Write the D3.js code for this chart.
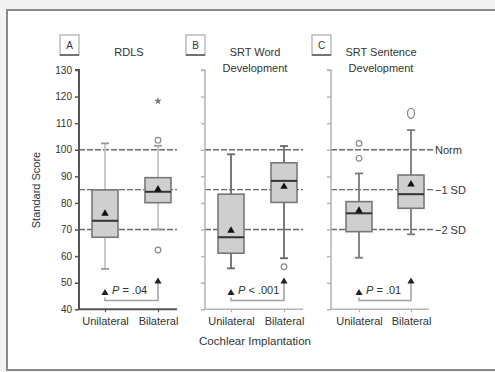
<!DOCTYPE html>
<html>
<head>
<meta charset="utf-8">
<script src="https://cdn.jsdelivr.net/npm/d3@7"></script>
<style>
  html, body { margin: 0; padding: 0; background: #f3f3f3; }
  svg { display: block; }
  text { font-family: "Liberation Sans", Arial, sans-serif; fill: #333; }
</style>
</head>
<body>
<svg id="chart" width="495" height="372"></svg>
<script>
// Panels and their titles
const panelLetters = ["A", "B", "C"];
const panelTitles = [["RDLS"], ["SRT Word", "Development"], ["SRT Sentence", "Development"]];
const groups = ["Unilateral", "Bilateral"];

// Box-plot statistics per panel: [Unilateral, Bilateral]
const lowerWhisker = [[55.2, 70.0], [55.4, 59.2], [59.4, 68.2]];
const q1           = [[67.1, 80.1], [61.1, 80.2], [69.2, 78.0]];
const medians      = [[73.3, 84.2], [67.1, 88.3], [76.1, 83.3]];
const q3           = [[84.9, 89.5], [83.3, 95.1], [80.5, 90.5]];
const upperWhisker = [[102.4, 101.5], [98.3, 101.4], [91.1, 107.4]];
const means        = [[76.0, 85.1], [69.6, 86.1], [77.1, 87.0]];

// Outliers: [panel, group, value, kind]
const outliers = [
  [0, 1, 118.3, "star"], [0, 1, 103.6, "circle"], [0, 1, 62.3, "circle"],
  [1, 1, 56.0, "circle"],
  [2, 0, 102.4, "circle"], [2, 0, 96.8, "circle"],
  [2, 1, 113.7, "extreme"]
];

// Group comparison results
const pLabels = ["= .04", "< .001", "= .01"];

// Reference lines (normative mean and SDs)
const refValues = [100, 85, 70];
const refLabels = ["Norm", "\u22121 SD", "\u22122 SD"];

const yTicks = [40, 50, 60, 70, 80, 90, 100, 110, 120, 130];

const svg = d3.select("#chart");

// outer frame
svg.append("rect").attr("x", 7).attr("y", 10).attr("width", 500).attr("height", 360)
  .attr("fill", "#fff").attr("stroke", "#8a8a8a").attr("stroke-width", 2);

const y = d3.scaleLinear().domain([40, 130]).range([309.3, 70]);

const panelX0 = [79, 205, 331];
const panelW = 98;
const axisColor = ["#555", "#b5b5b5", "#b5b5b5"];
const whiskerColor = ["#c4c4c4", "#6a6a6a", "#7a7a7a"];

panelLetters.forEach((letter, p) => {
  const x0 = panelX0[p];
  const g = svg.append("g");
  const x = d3.scalePoint().domain(groups).range([x0 + 26 + (p === 2 ? 2 : 0), x0 + 79 + (p === 2 ? 1 : 0)]);

  // reference lines
  refValues.forEach((v, i) => {
    g.append("line")
      .attr("x1", x0).attr("x2", x0 + panelW + (p === 2 ? 4 : 0))
      .attr("y1", y(v)).attr("y2", y(v))
      .attr("stroke", "#6a6a6a").attr("stroke-width", 1.4)
      .attr("stroke-dasharray", "6,2");
    if (p === 2) {
      g.append("text").attr("x", x0 + panelW + 6).attr("y", y(v) + 4)
        .attr("font-size", 11).text(refLabels[i]);
    }
  });

  // y axis
  const yAxis = d3.axisLeft(y).tickValues(yTicks).tickSize(4)
    .tickFormat(p === 0 ? d3.format("d") : () => "");
  const ya = g.append("g").attr("transform", `translate(${x0},0)`).call(yAxis);
  ya.select(".domain").attr("stroke", axisColor[p]).attr("stroke-width", p === 0 ? 2 : 1.5)
    .attr("d", `M-4,${y(130)}H0V${y(40)}`);
  ya.selectAll(".tick line").attr("stroke", axisColor[p]).attr("stroke-width", 1.5);
  ya.selectAll(".tick text").attr("font-size", 10).attr("fill", "#333")
    .attr("font-family", "Liberation Sans, Arial, sans-serif");

  // x axis
  const xAxis = d3.axisBottom(x).tickSize(3).tickPadding(5);
  const xa = g.append("g").attr("transform", `translate(0,${y(40)})`).call(xAxis);
  xa.select(".domain").attr("stroke", axisColor[p]).attr("stroke-width", p === 0 ? 2 : 1.5)
    .attr("d", `M${x0},0H${x0 + panelW}`);
  xa.selectAll(".tick line").attr("stroke", axisColor[p]).attr("stroke-width", 1.2);
  xa.selectAll(".tick text").attr("font-size", 11).attr("fill", "#333")
    .attr("font-family", "Liberation Sans, Arial, sans-serif");

  // boxes
  groups.forEach((grp, k) => {
    const cx = x(grp);
    const bw = 26;
    // whisker
    g.append("line").attr("x1", cx).attr("x2", cx)
      .attr("y1", y(upperWhisker[p][k])).attr("y2", y(lowerWhisker[p][k]))
      .attr("stroke", whiskerColor[p]).attr("stroke-width", 1.8);
    [upperWhisker[p][k], lowerWhisker[p][k]].forEach(v => {
      g.append("line").attr("x1", cx - 4).attr("x2", cx + 4)
        .attr("y1", y(v)).attr("y2", y(v))
        .attr("stroke", p === 0 ? "#999" : whiskerColor[p]).attr("stroke-width", 1.8);
    });
    // box
    g.append("rect").attr("x", cx - bw / 2).attr("width", bw)
      .attr("y", y(q3[p][k])).attr("height", y(q1[p][k]) - y(q3[p][k]))
      .attr("fill", "#cfcfcf").attr("stroke", "#777").attr("stroke-width", 1.6);
    // median
    g.append("line").attr("x1", cx - bw / 2).attr("x2", cx + bw / 2)
      .attr("y1", y(medians[p][k])).attr("y2", y(medians[p][k]))
      .attr("stroke", "#333").attr("stroke-width", 2);
    // mean
    g.append("path").attr("d", d3.symbol(d3.symbolTriangle).size(24)())
      .attr("transform", `translate(${cx},${y(means[p][k])})`)
      .attr("fill", "#111");
  });

  // outliers
  outliers.filter(o => o[0] === p).forEach(o => {
    const cx = x(groups[o[1]]);
    const cy = y(o[2]);
    if (o[3] === "circle") {
      g.append("circle").attr("cx", cx).attr("cy", cy).attr("r", 2.8)
        .attr("fill", "none").attr("stroke", "#888").attr("stroke-width", 1.2);
    } else if (o[3] === "extreme") {
      g.append("ellipse").attr("cx", cx).attr("cy", cy).attr("rx", 3.5).attr("ry", 5)
        .attr("fill", "none").attr("stroke", "#888").attr("stroke-width", 1.3);
    } else {
      g.append("path").attr("d", d3.symbol(d3.symbolStar).size(18)())
        .attr("transform", `translate(${cx},${cy})`).attr("fill", "#777");
    }
  });

  // group comparison bracket
  const xu = x("Unilateral"), xb = x("Bilateral");
  const yb = 300.5;
  g.append("path").attr("d", `M${xu},${yb - 3}V${yb}H${xb}V${283}`)
    .attr("fill", "none").attr("stroke", "#a0a0a0").attr("stroke-width", 1.5);
  g.append("path").attr("d", d3.symbol(d3.symbolTriangle).size(22)())
    .attr("transform", `translate(${xu},${293})`).attr("fill", "#222");
  g.append("path").attr("d", d3.symbol(d3.symbolTriangle).size(22)())
    .attr("transform", `translate(${xb},${281.5})`).attr("fill", "#222");
  const pt = g.append("text").attr("x", xu + 7).attr("y", 294).attr("font-size", 11);
  pt.append("tspan").attr("font-style", "italic").text("P");
  pt.append("tspan").text(" " + pLabels[p]);

  // panel letter box
  const lx = x0 - 19;
  g.append("rect").attr("x", lx).attr("y", 35).attr("width", 19).attr("height", 20)
    .attr("fill", "#fff").attr("stroke", "#999").attr("stroke-width", 1);
  g.append("line").attr("x1", lx).attr("x2", lx + 19).attr("y1", 55).attr("y2", 55)
    .attr("stroke", "#555").attr("stroke-width", 1.5);
  g.append("text").attr("x", lx + 9.5).attr("y", 49).attr("text-anchor", "middle")
    .attr("font-size", 10).text(letter);

  // panel title
  const tcx = x0 + 50;
  panelTitles[p].forEach((line, i) => {
    g.append("text").attr("x", tcx).attr("y", 56 + i * 16).attr("text-anchor", "middle")
      .attr("font-size", 11).text(line);
  });
});

// axis titles
svg.append("text").attr("transform", "translate(40,190) rotate(-90)")
  .attr("text-anchor", "middle").attr("font-size", 11).text("Standard Score");
svg.append("text").attr("x", 255).attr("y", 345).attr("text-anchor", "middle")
  .attr("font-size", 11.5).text("Cochlear Implantation");
</script>
</body>
</html>
